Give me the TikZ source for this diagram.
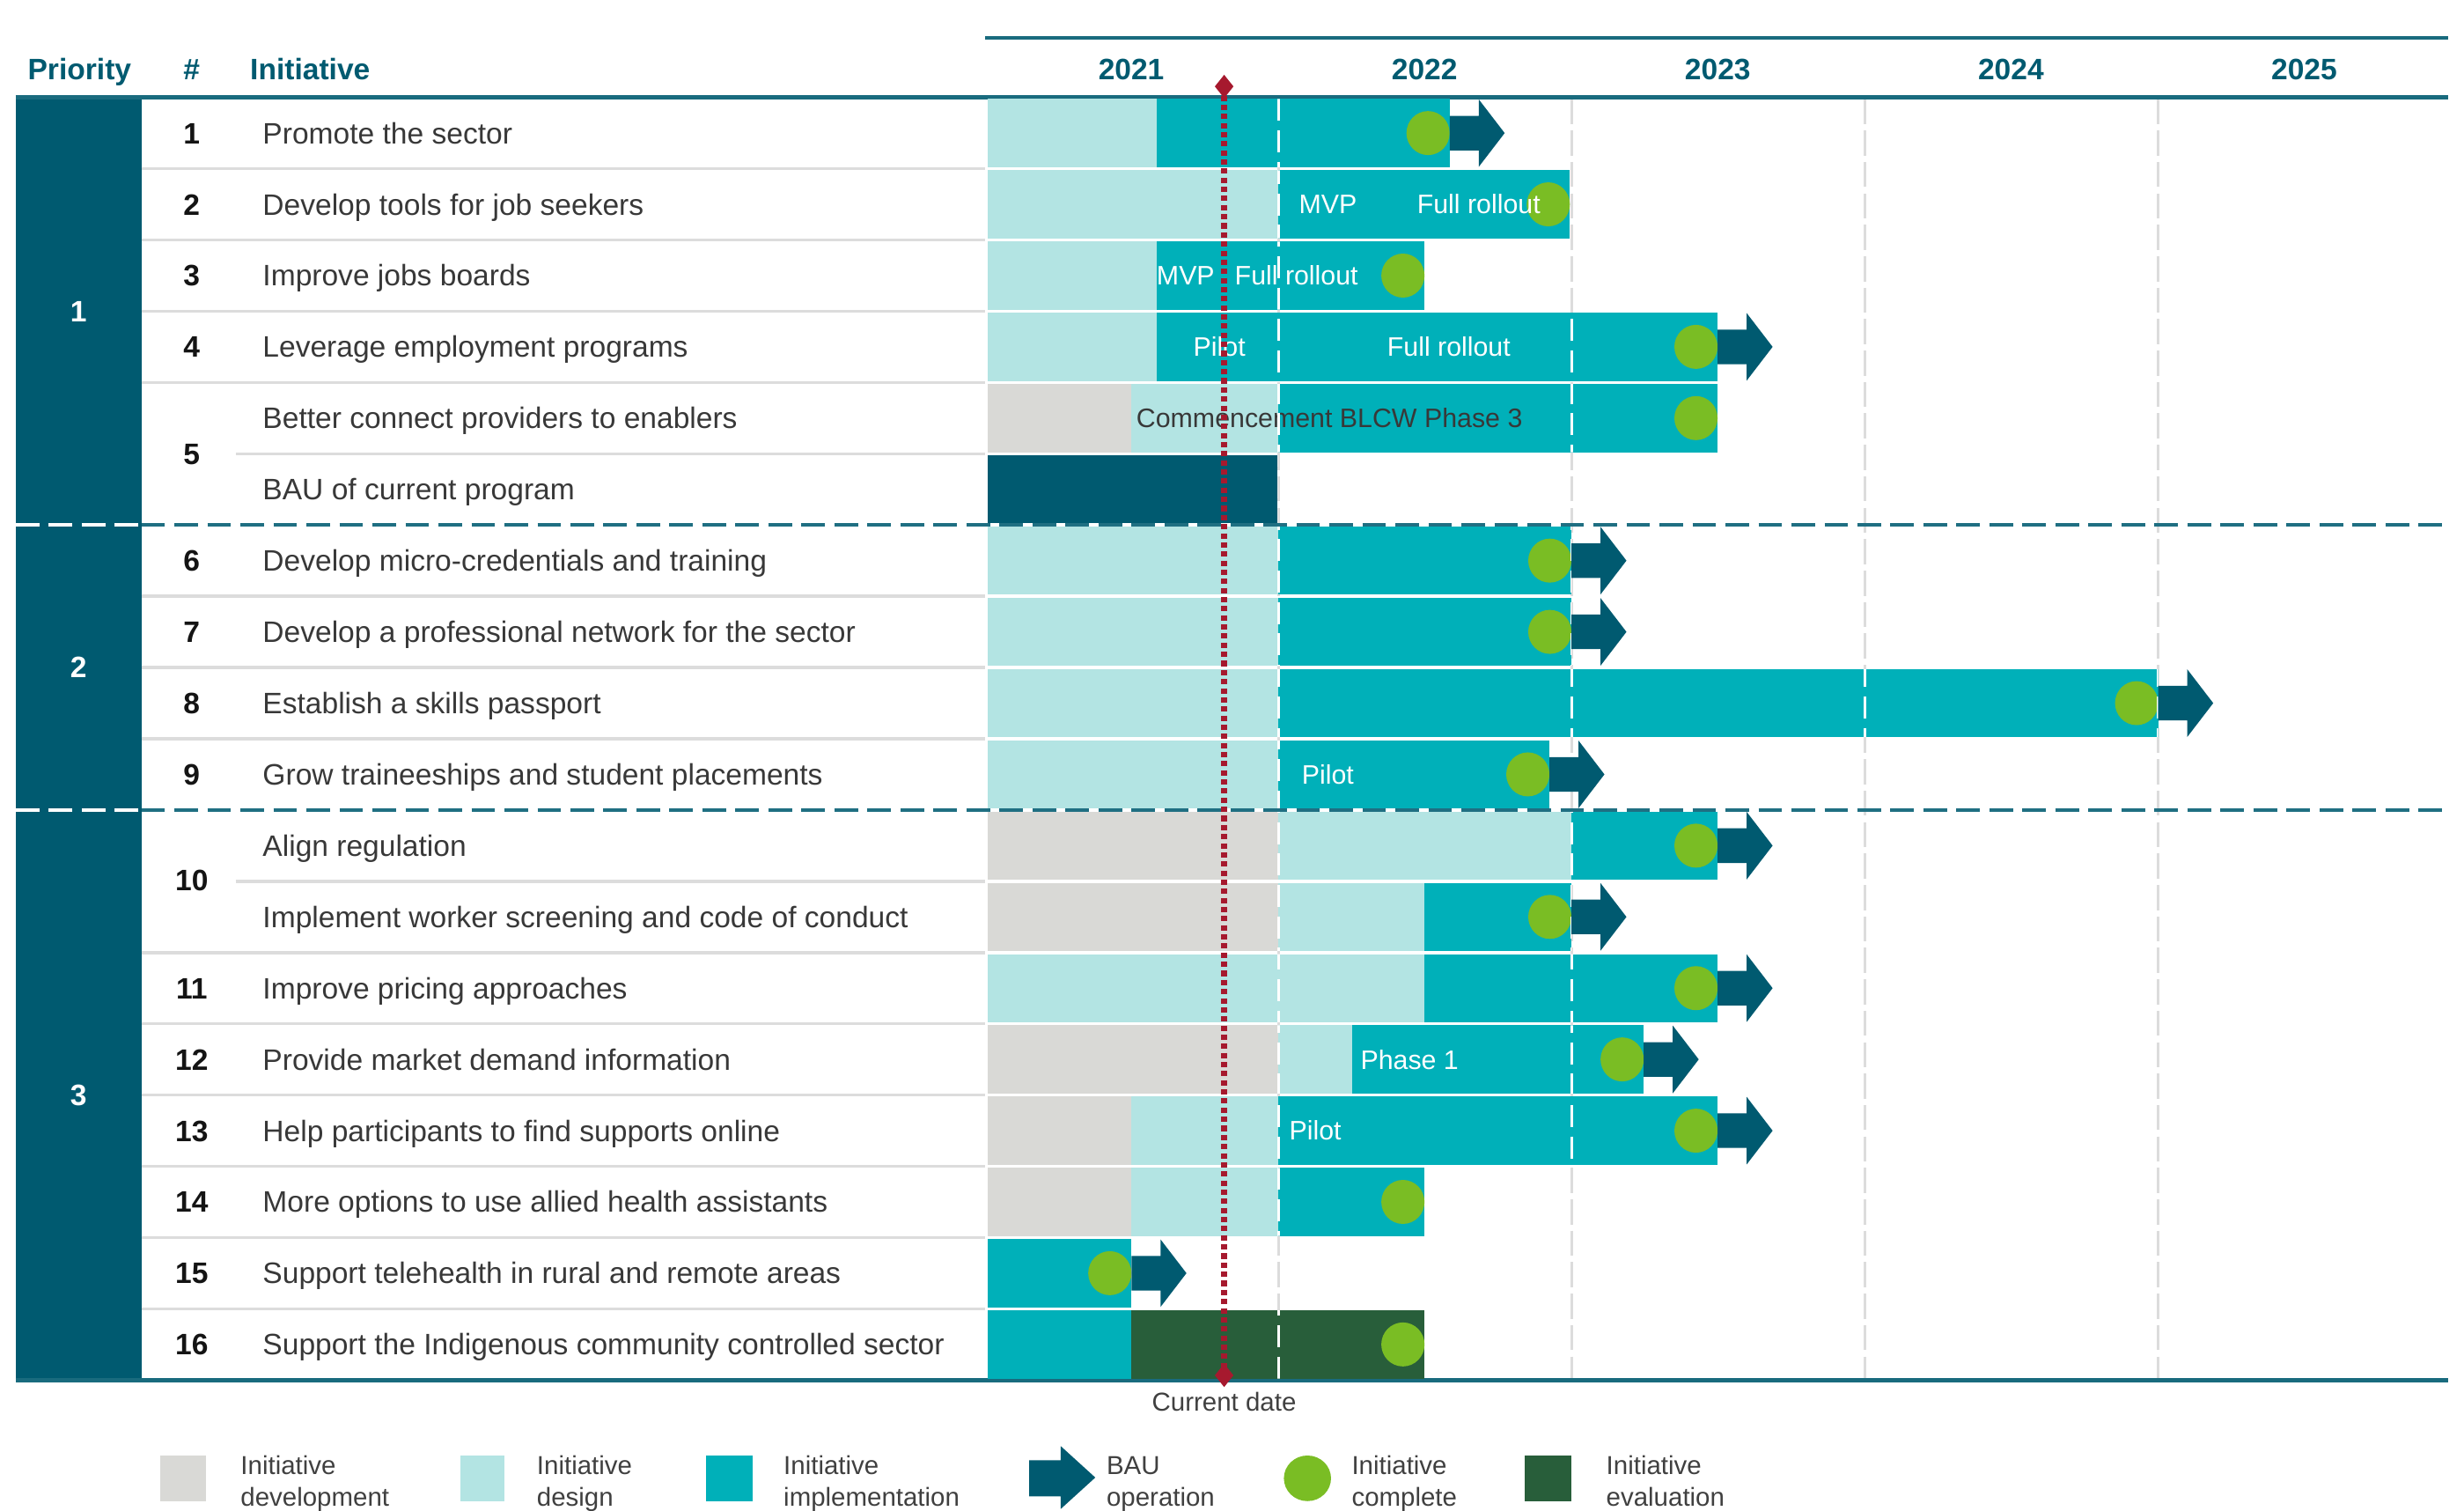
\documentclass[tikz,border=0pt]{standalone}
\usepackage{fontspec}
\setmainfont{Liberation Sans}
\usetikzlibrary{shapes.geometric}
\definecolor{cdark}{HTML}{005A70}
\definecolor{cimpl}{HTML}{00B0B9}
\definecolor{cdes}{HTML}{B3E4E3}
\definecolor{cdev}{HTML}{D9D9D6}
\definecolor{cgreen}{HTML}{7ABD24}
\definecolor{ceval}{HTML}{285E3A}
\definecolor{cred}{HTML}{A6192E}
\definecolor{cgrid}{HTML}{DCDCDC}
\definecolor{ctext}{HTML}{383838}
\definecolor{cleg}{HTML}{404040}
\definecolor{cdash}{HTML}{1F6F82}
\gdef\barclip{}
\newcommand\gbar[4]{%
  \pgfmathsetmacro\gya{62+(#3-1)*45.333+1}%
  \pgfmathsetmacro\gyb{62+#3*45.333-1}%
  \fill[#4] (#1,\gya) rectangle (#2,\gyb);%
  \xdef\barclip{\barclip (#1,\gya) rectangle (#2,\gyb)}%
}
\newcommand\gdone[2]{%
  \pgfmathsetmacro\gyc{62+(#2-0.5)*45.333}%
  \fill[cgreen] ({#1-13.75},\gyc) ellipse [x radius=13.75, y radius=14];%
}
\newcommand\gbau[2]{%
  \pgfmathsetmacro\gyc{62+(#2-0.5)*45.333}%
  \fill[cdark] (#1,{\gyc-11}) -- ({#1+18.5},{\gyc-11}) -- ({#1+18.5},{\gyc-21.5}) -- ({#1+35},\gyc) -- ({#1+18.5},{\gyc+21.5}) -- ({#1+18.5},{\gyc+11}) -- (#1,{\gyc+11}) -- cycle;%
}
\begin{document}
\begin{tikzpicture}[x=1pt,y=-1pt,
  itext/.style={font=\fontsize{18.8}{21}\selectfont, text=ctext, anchor=west, inner sep=0pt, text height=13.4pt, text depth=0pt},
  ntext/.style={font=\fontsize{18.8}{21}\selectfont\bfseries, text=black!92, anchor=center, inner sep=0pt, text height=13.4pt, text depth=0pt},
  htext/.style={font=\fontsize{18.8}{21}\selectfont\bfseries, text=cdark, inner sep=0pt, text height=13.4pt, text depth=0pt},
  ptext/.style={font=\fontsize{18.8}{21}\selectfont\bfseries, text=white, inner sep=0pt, text height=13.4pt, text depth=0pt},
  btext/.style={font=\fontsize{17}{19}\selectfont, text=white, inner sep=0pt, text height=12.2pt, text depth=0pt},
  ltext/.style={font=\fontsize{16.5}{19}\selectfont, text=cleg, anchor=base west, inner sep=0pt},
  sep/.style={draw=cgrid, line width=2pt},
  gridgrey/.style={draw=cgrid, line width=1.8pt, dash pattern=on 16pt off 4pt},
  gridwhite/.style={draw=white, line width=2pt, dash pattern=on 14pt off 6pt},
  cdiam/.style={diamond, fill=cred, inner sep=0pt, minimum width=12pt, minimum height=15pt},
  redline/.style={draw=cred, line width=4pt, dash pattern=on 3.4pt off 2.4pt}
]
\useasboundingbox (0,0) rectangle (1568,961);
\fill[white] (0,0) rectangle (1568,961);

% grey grid lines
\foreach \gx in {813.6,1000.2,1186.8,1373.4} \draw[gridgrey] (\gx,63) -- (\gx,877);

% priority column
\fill[cdark] (10,62) rectangle (90,878);

% row separators in label area
\foreach \r in {1,2,3,4,7,8,9,12,13,14,15,16,17} \draw[sep] (90,{62+\r*45.333}) -- (627,{62+\r*45.333});
\foreach \r in {5,11} \draw[sep] (150,{62+\r*45.333}) -- (627,{62+\r*45.333});

% header lines
\draw[cdark!90!white, line width=2.5pt] (627,24) -- (1558,24);
\draw[cdark!90!white, line width=3pt] (10,62) -- (1558,62);
\draw[cdark!90!white, line width=3pt] (10,878) -- (1558,878);

% header text
\node[htext, anchor=west] (hprio) at (17.5,44) {Priority};
\node[htext, anchor=center] (hnum) at (122,44) {\#};
\node[htext, anchor=west] (hinit) at (159,44) {Initiative};
\node[htext] (y2021) at (719.9,44) {2021};
\node[htext] (y2022) at (906.5,44) {2022};
\node[htext] (y2023) at (1093.1,44) {2023};
\node[htext] (y2024) at (1279.7,44) {2024};
\node[htext] (y2025) at (1466.3,44) {2025};

% priority labels
\node[ptext] (p1) at (50,198) {1};
\node[ptext] (p2) at (50,424.5) {2};
\node[ptext] (p3) at (50,696.5) {3};

% numbers
\node[ntext] (n1) at (122,84.67) {1};
\node[ntext] (n2) at (122,130.00) {2};
\node[ntext] (n3) at (122,175.33) {3};
\node[ntext] (n4) at (122,220.67) {4};
\node[ntext] (n5) at (122,288.67) {5};
\node[ntext] (n6) at (122,356.67) {6};
\node[ntext] (n7) at (122,402.00) {7};
\node[ntext] (n8) at (122,447.33) {8};
\node[ntext] (n9) at (122,492.67) {9};
\node[ntext] (n10) at (122,560.00) {10};
\node[ntext] (n11) at (122,628.67) {11};
\node[ntext] (n12) at (122,674.00) {12};
\node[ntext] (n13) at (122,719.33) {13};
\node[ntext] (n14) at (122,764.67) {14};
\node[ntext] (n15) at (122,810.00) {15};
\node[ntext] (n16) at (122,855.33) {16};

% initiative texts
\node[itext] (t1) at (167,84.67) {Promote the sector};
\node[itext] (t2) at (167,130.00) {Develop tools for job seekers};
\node[itext] (t3) at (167,175.33) {Improve jobs boards};
\node[itext] (t4) at (167,220.67) {Leverage employment programs};
\node[itext] (t5) at (167,266.00) {Better connect providers to enablers};
\node[itext] (t6) at (167,311.33) {BAU of current program};
\node[itext] (t7) at (167,356.67) {Develop micro-credentials and training};
\node[itext] (t8) at (167,402.00) {Develop a professional network for the sector};
\node[itext] (t9) at (167,447.33) {Establish a skills passport};
\node[itext] (t10) at (167,492.67) {Grow traineeships and student placements};
\node[itext] (t11) at (167,538.00) {Align regulation};
\node[itext] (t12) at (167,583.33) {Implement worker screening and code of conduct};
\node[itext] (t13) at (167,628.67) {Improve pricing approaches};
\node[itext] (t14) at (167,674.00) {Provide market demand information};
\node[itext] (t15) at (167,719.33) {Help participants to find supports online};
\node[itext] (t16) at (167,764.67) {More options to use allied health assistants};
\node[itext] (t17) at (167,810.00) {Support telehealth in rural and remote areas};
\node[itext] (t18) at (167,855.33) {Support the Indigenous community controlled sector};

% bars
\gbar{628.6}{736}{1}{cdes}\gbar{736}{922.5}{1}{cimpl}
\gbar{628.6}{813.6}{2}{cdes}\gbar{813.6}{999}{2}{cimpl}
\gbar{628.6}{736}{3}{cdes}\gbar{736}{906.5}{3}{cimpl}
\gbar{628.6}{736}{4}{cdes}\gbar{736}{1093}{4}{cimpl}
\gbar{628.6}{720}{5}{cdev}\gbar{720}{813.6}{5}{cdes}\gbar{813.6}{1093}{5}{cimpl}
\gbar{628.6}{813}{6}{cdark}
\gbar{628.6}{813.6}{7}{cdes}\gbar{813.6}{1000}{7}{cimpl}
\gbar{628.6}{813.6}{8}{cdes}\gbar{813.6}{1000}{8}{cimpl}
\gbar{628.6}{813.6}{9}{cdes}\gbar{813.6}{1373.4}{9}{cimpl}
\gbar{628.6}{813.6}{10}{cdes}\gbar{813.6}{986}{10}{cimpl}
\gbar{628.6}{813.6}{11}{cdev}\gbar{813.6}{1000}{11}{cdes}\gbar{1000}{1093}{11}{cimpl}
\gbar{628.6}{813.6}{12}{cdev}\gbar{813.6}{906.5}{12}{cdes}\gbar{906.5}{1000}{12}{cimpl}
\gbar{628.6}{906.5}{13}{cdes}\gbar{906.5}{1093}{13}{cimpl}
\gbar{628.6}{813.6}{14}{cdev}\gbar{813.6}{860.5}{14}{cdes}\gbar{860.5}{1046}{14}{cimpl}
\gbar{628.6}{720}{15}{cdev}\gbar{720}{813.6}{15}{cdes}\gbar{813.6}{1093}{15}{cimpl}
\gbar{628.6}{720}{16}{cdev}\gbar{720}{813.6}{16}{cdes}\gbar{813.6}{906.5}{16}{cimpl}
\gbar{628.6}{720}{17}{cimpl}
\gbar{628.6}{720}{18}{cimpl}\gbar{720}{906.5}{18}{ceval}

% completion markers
\gdone{922.5}{1}
\gdone{999}{2}
\gdone{906.5}{3}
\gdone{1093}{4}
\gdone{1093}{5}
\gdone{1000}{7}
\gdone{1000}{8}
\gdone{1373.4}{9}
\gdone{986}{10}
\gdone{1093}{11}
\gdone{1000}{12}
\gdone{1093}{13}
\gdone{1046}{14}
\gdone{1093}{15}
\gdone{906.5}{16}
\gdone{720}{17}
\gdone{906.5}{18}

% bar labels
\node[btext] (l2a) at (845,130.00) {MVP};
\node[btext] (l2b) at (941,130.00) {Full rollout};
\node[btext] (l3a) at (754.5,175.33) {MVP};
\node[btext] (l3b) at (825,175.33) {Full rollout};
\node[btext] (l4a) at (776,220.67) {Pilot};
\node[btext] (l4b) at (922,220.67) {Full rollout};
\node[btext, text=ctext] (l5) at (846,266.00) {Commencement BLCW Phase 3};
\node[btext] (l10) at (845,492.67) {Pilot};
\node[btext] (l14) at (897,674.00) {Phase 1};
\node[btext] (l15) at (837,719.33) {Pilot};

% white grid lines over bars
\begin{scope}
\expandafter\clip\barclip;
\foreach \gx in {813.6,1000.2,1186.8,1373.4} \draw[gridwhite] (\gx,63) -- (\gx,877);
\end{scope}

% BAU arrows
\gbau{922.5}{1}
\gbau{1093}{4}
\gbau{1000}{7}
\gbau{1000}{8}
\gbau{1373.4}{9}
\gbau{986}{10}
\gbau{1093}{11}
\gbau{1000}{12}
\gbau{1093}{13}
\gbau{1046}{14}
\gbau{1093}{15}
\gbau{720}{17}

% priority separators
\foreach \yy in {334, 515.33} {
  \draw[white, line width=2.5pt] (627,\yy) -- (1558,\yy);
  \draw[cdash, line width=2.3pt, dash pattern=on 15pt off 6pt] (90,\yy) -- (1558,\yy);
  \draw[white, line width=2.3pt, dash pattern=on 15pt off 6pt] (10,\yy) -- (90,\yy);
}

% current date
\node[cdiam] (cdtop) at (779,55) {};
\node[cdiam] (cdbot) at (779,875) {};
\draw[redline] (cdtop.center) -- (cdbot.center);
\node[font=\fontsize{16.5}{19}\selectfont, text=cleg, inner sep=0pt, text height=11.8pt, text depth=0pt] (cdlab) at (779,892) {Current date};

% legend
\fill[cdev] (102,926) rectangle (131,955);
\node[ltext] (lg1a) at (153,938) {Initiative};
\node[ltext] (lg1b) at (153,958) {development};
\fill[cdes] (293,926) rectangle (321,955);
\node[ltext] (lg2a) at (341.5,938) {Initiative};
\node[ltext] (lg2b) at (341.5,958) {design};
\fill[cimpl] (449.5,926) rectangle (479,955);
\node[ltext] (lg3a) at (498.5,938) {Initiative};
\node[ltext] (lg3b) at (498.5,958) {implementation};
\fill[cdark] (655,929) -- (675,929) -- (675,920) -- (697,940) -- (675,960) -- (675,952) -- (655,952) -- cycle;
\node[ltext] (lg4a) at (704,938) {BAU};
\node[ltext] (lg4b) at (704,958) {operation};
\fill[cgreen] (832,940.5) ellipse [x radius=15, y radius=14.5];
\node[ltext] (lg5a) at (860,938) {Initiative};
\node[ltext] (lg5b) at (860,958) {complete};
\fill[ceval] (970,926) rectangle (1000,955);
\node[ltext] (lg6a) at (1022,938) {Initiative};
\node[ltext] (lg6b) at (1022,958) {evaluation};
\end{tikzpicture}
\end{document}
